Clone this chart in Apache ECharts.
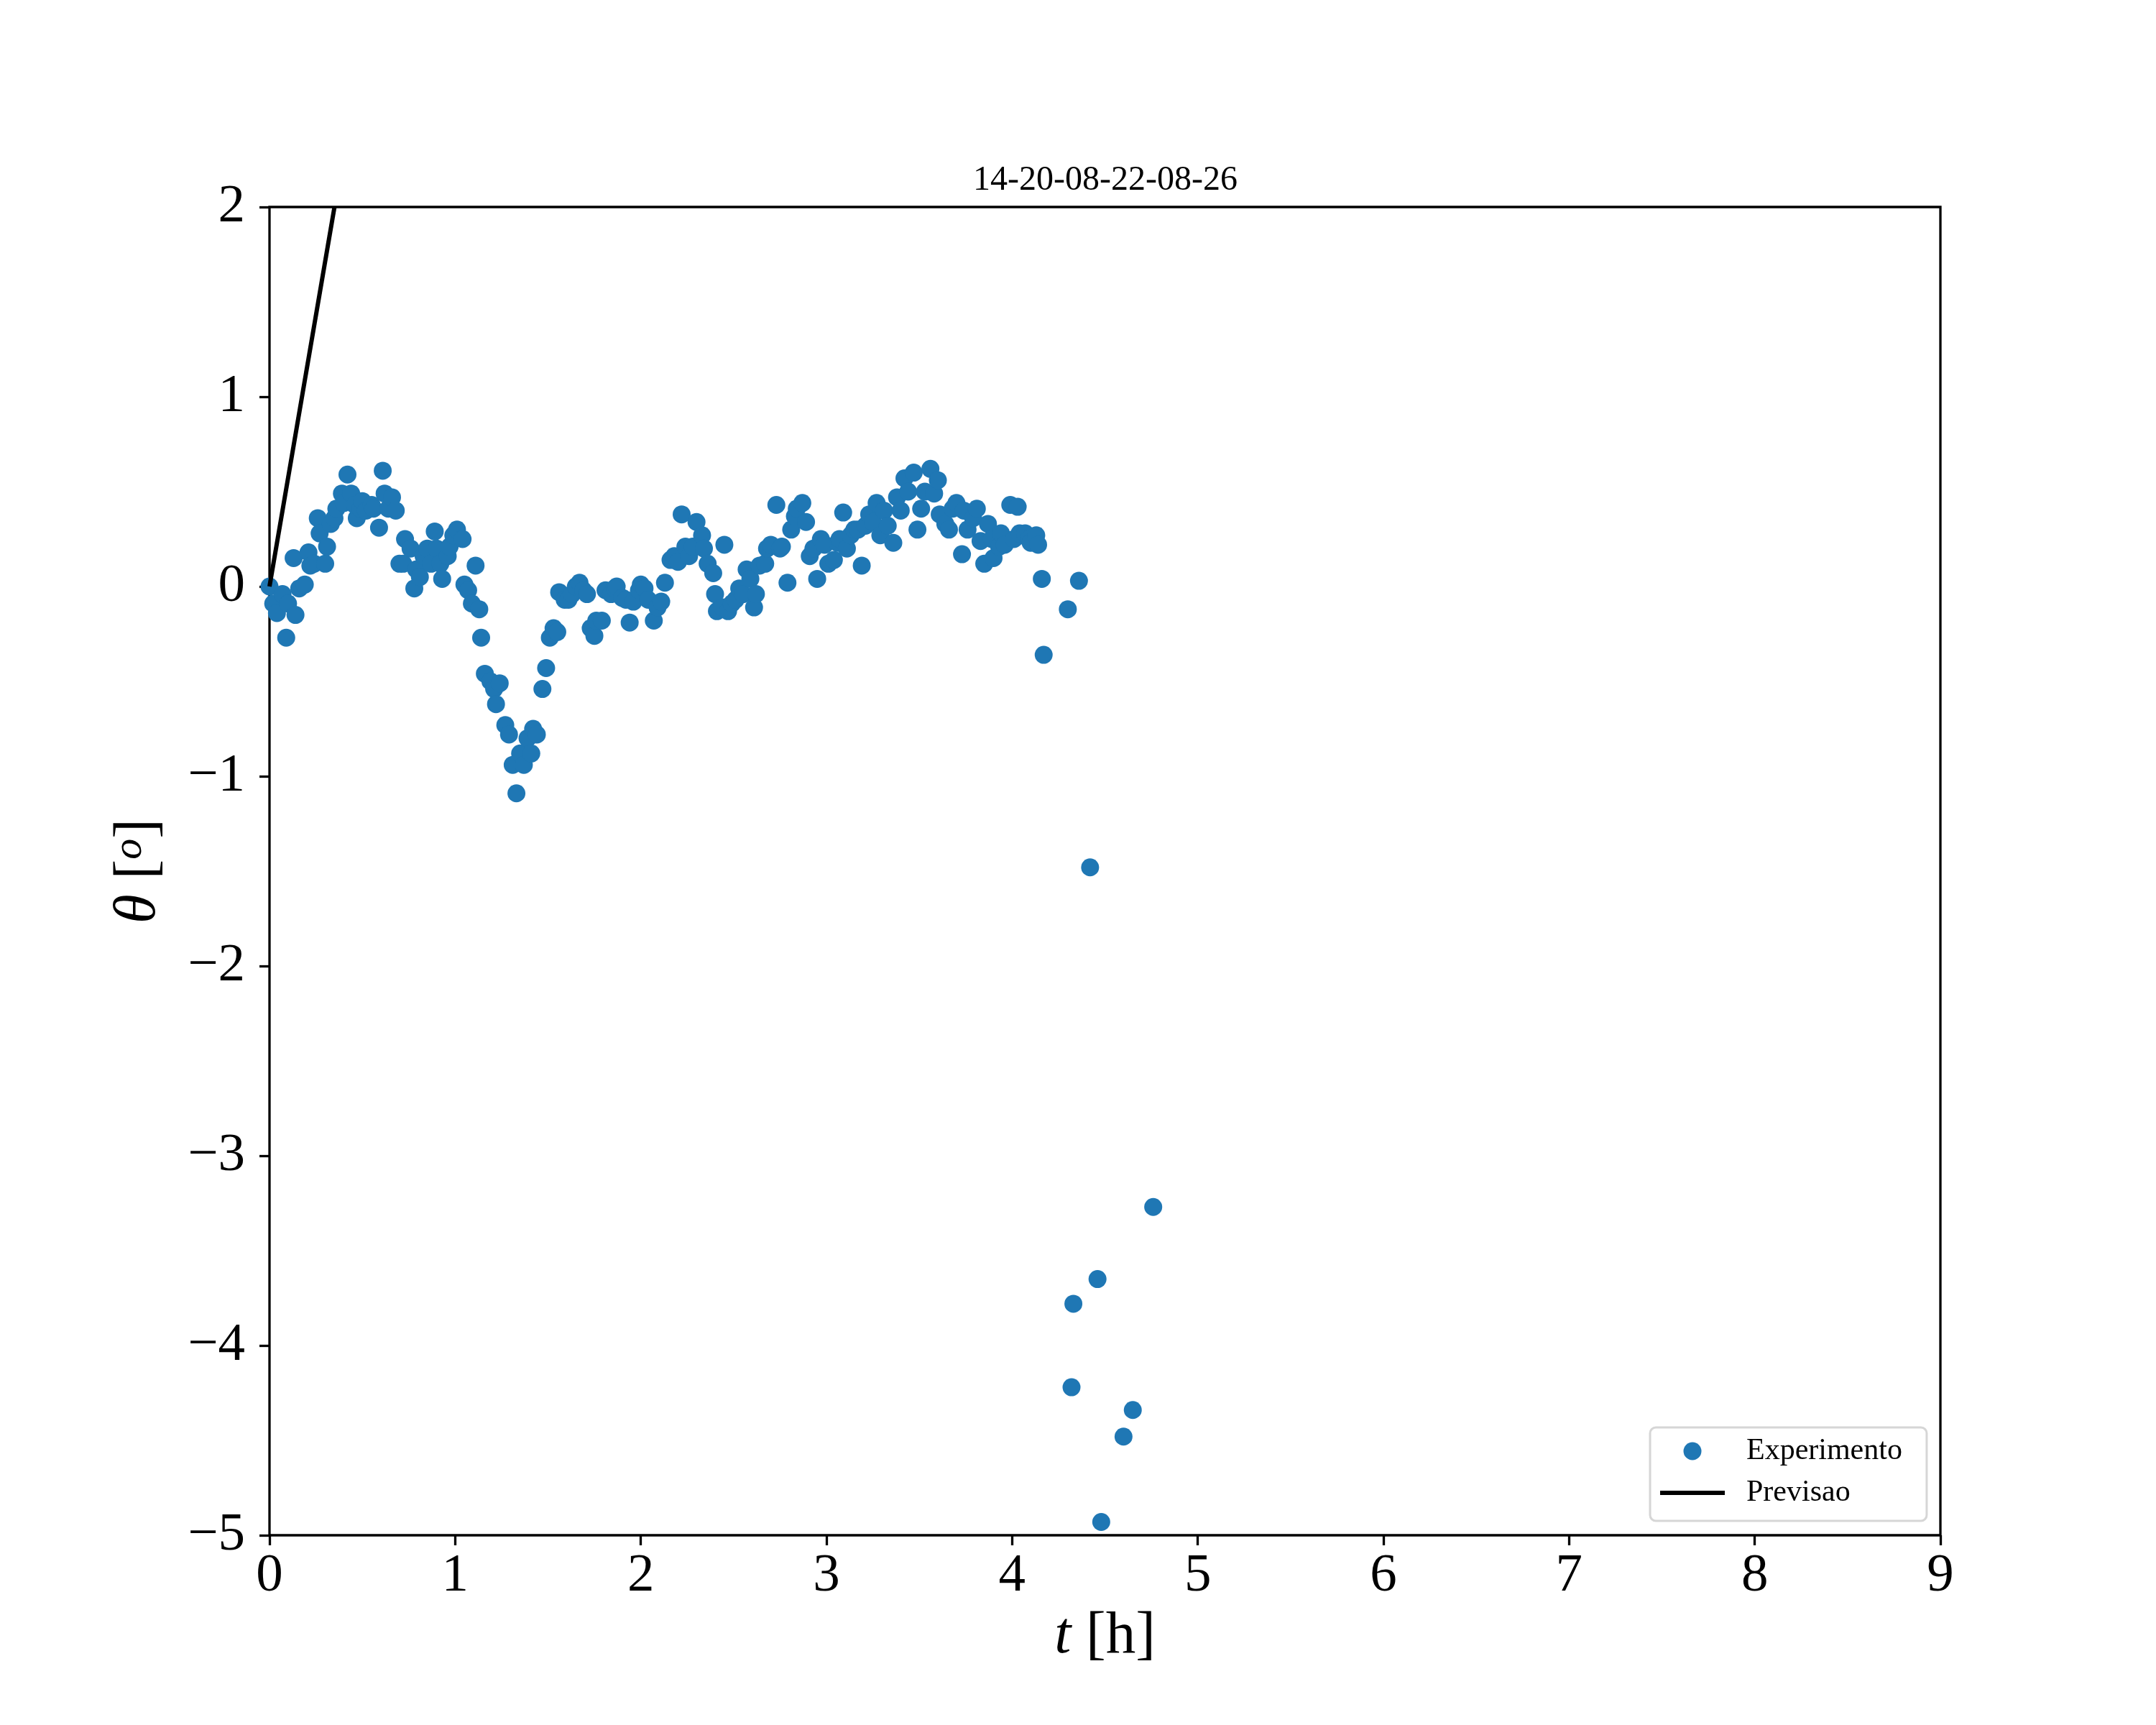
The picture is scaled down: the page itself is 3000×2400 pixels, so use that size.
<!DOCTYPE html>
<html>
<head>
<meta charset="utf-8">
<script src="https://cdn.jsdelivr.net/npm/echarts@6/dist/echarts.min.js"></script>
<style>html,body{margin:0;padding:0;background:#fff;}#c{width:3000px;height:2400px;}</style>
</head>
<body>
<div id="c"></div>
<script>
const titleText = '14-20-08-22-08-26';
const xTicks = [0, 1, 2, 3, 4, 5, 6, 7, 8, 9];
const yTicks = [-5, -4, -3, -2, -1, 0, 1, 2];

const expT = [
  0.00,0.02,0.04,0.07,0.09,0.10,0.13,0.14,0.16,0.19,
  0.21,0.22,0.24,0.26,0.27,0.30,0.31,0.33,0.35,0.36,
  0.39,0.40,0.42,0.44,0.46,0.47,0.49,0.50,0.52,0.55,
  0.56,0.59,0.61,0.62,0.64,0.66,0.68,0.70,0.72,0.73,
  0.76,0.78,0.79,0.81,0.83,0.85,0.87,0.89,0.90,0.92,
  0.93,0.96,0.97,0.99,1.01,1.04,1.05,1.07,1.09,1.11,
  1.13,1.14,1.16,1.19,1.21,1.22,1.24,1.27,1.29,1.31,
  1.33,1.35,1.37,1.39,1.41,1.42,1.44,1.47,1.49,1.51,
  1.53,1.55,1.56,1.59,1.61,1.63,1.65,1.67,1.69,1.71,
  1.73,1.75,1.76,1.79,1.81,1.84,1.86,1.87,1.90,1.92,
  1.94,1.96,1.99,2.00,2.02,2.04,2.07,2.09,2.11,2.13,
  2.16,2.18,2.20,2.22,2.24,2.26,2.28,2.30,2.33,2.34,
  2.36,2.39,2.40,2.41,2.44,2.45,2.47,2.49,2.51,2.53,
  2.55,2.57,2.59,2.61,2.62,2.64,2.67,2.68,2.70,2.73,
  2.75,2.76,2.79,2.81,2.83,2.84,2.87,2.89,2.91,2.93,
  2.95,2.97,2.99,3.01,3.04,3.06,3.07,3.09,3.11,3.13,
  3.15,3.17,3.19,3.21,3.23,3.25,3.27,3.29,3.31,3.33,
  3.36,3.38,3.40,3.42,3.44,3.47,3.49,3.51,3.53,3.56,
  3.58,3.60,3.61,3.64,3.66,3.68,3.70,3.73,3.74,3.76,
  3.79,3.81,3.83,3.85,3.87,3.89,3.90,3.93,3.94,3.96,
  3.99,4.01,4.03,4.04,4.07,4.09,4.10,4.13,4.14,4.16,
  4.17,4.30,4.32,4.33,4.36,4.42,4.46,4.48,4.60,4.65,
  4.76
];
const expTheta = [
  0.00,-0.09,-0.14,-0.04,-0.27,-0.09,0.15,-0.15,-0.01,0.01,
  0.18,0.11,0.12,0.36,0.28,0.12,0.21,0.33,0.36,0.41,
  0.49,0.44,0.59,0.49,0.43,0.36,0.41,0.45,0.40,0.43,
  0.41,0.31,0.61,0.49,0.41,0.47,0.40,0.12,0.12,0.25,
  0.20,-0.01,0.09,0.05,0.16,0.20,0.12,0.29,0.20,0.12,
  0.04,0.16,0.21,0.27,0.30,0.25,0.01,-0.02,-0.09,0.11,
  -0.12,-0.27,-0.46,-0.50,-0.54,-0.62,-0.51,-0.73,-0.78,-0.94,
  -1.09,-0.88,-0.94,-0.80,-0.88,-0.75,-0.78,-0.54,-0.43,-0.27,
  -0.22,-0.24,-0.03,-0.07,-0.07,-0.04,0.00,0.02,-0.02,-0.04,
  -0.22,-0.26,-0.18,-0.18,-0.02,-0.04,-0.01,0.00,-0.06,-0.07,
  -0.19,-0.08,-0.02,0.01,-0.01,-0.07,-0.18,-0.11,-0.08,0.02,
  0.14,0.16,0.13,0.38,0.21,0.16,0.21,0.34,0.27,0.20,
  0.12,0.07,-0.04,-0.13,-0.11,0.22,-0.13,-0.09,-0.07,-0.01,
  -0.04,0.09,0.04,-0.11,-0.04,0.11,0.12,0.20,0.22,0.43,
  0.20,0.21,0.02,0.30,0.37,0.41,0.44,0.34,0.16,0.20,
  0.04,0.25,0.22,0.12,0.14,0.23,0.25,0.39,0.20,0.27,
  0.30,0.30,0.11,0.32,0.38,0.34,0.44,0.27,0.40,0.32,
  0.23,0.47,0.40,0.57,0.50,0.60,0.30,0.41,0.50,0.62,
  0.49,0.56,0.38,0.33,0.30,0.41,0.44,0.17,0.40,0.30,
  0.36,0.41,0.24,0.12,0.33,0.25,0.15,0.21,0.28,0.22,
  0.43,0.25,0.42,0.28,0.28,0.25,0.23,0.27,0.22,0.04,
  -0.36,-0.12,-4.22,-3.78,0.03,-1.48,-3.65,-4.93,-4.48,-4.34,
  -3.27
];
const prevT = [0, 0.35];
const prevTheta = [0, 2];

const FONT = 'Liberation Serif';
const expData = expT.map((t, i) => [t, expTheta[i]]);
const prevData = prevT.map((t, i) => [t, prevTheta[i]]);
const minus = v => String(v).replace('-', '\u2212');

const chart = echarts.init(document.getElementById('c'), null, {renderer: 'canvas', devicePixelRatio: 1});
chart.setOption({
  animation: false,
  backgroundColor: '#ffffff',
  title: {
    text: titleText,
    left: 1533,
    top: 222,
    textAlign: 'center',
    textStyle: {fontFamily: FONT, fontSize: 48, fontWeight: 'normal', color: '#000'}
  },
  grid: {
    left: 375, right: 300, top: 288, bottom: 264,
    show: true, borderColor: '#000', borderWidth: 3.3, backgroundColor: 'transparent'
  },
  legend: {
    orient: 'vertical',
    left: 2296,
    top: 1986,
    padding: [12, 34, 18, 14],
    itemWidth: 90,
    itemHeight: 25,
    itemGap: 16,
    symbolKeepAspect: true,
    backgroundColor: '#fff',
    borderColor: '#d6d6d6',
    borderWidth: 3,
    borderRadius: 8,
    textStyle: {fontFamily: FONT, fontSize: 42, color: '#000', padding: [0, 0, 0, 25]},
    data: [
      {name: 'Experimento', icon: 'circle'},
      {name: 'Previsao', icon: 'path://M0,0 L90,0 L90,6 L0,6 Z', itemStyle: {color: '#000'}}
    ]
  },
  xAxis: {
    type: 'value',
    min: 0, max: 9, interval: 1,
    axisLine: {show: false, onZero: false},
    axisTick: {show: true, inside: false, length: 14, lineStyle: {color: '#000', width: 3.3}},
    axisLabel: {margin: 20, fontFamily: FONT, fontSize: 75, color: '#000', formatter: v => minus(v)},
    splitLine: {show: false},
    name: '{i|t} [h]',
    nameLocation: 'middle',
    nameGap: 100,
    nameTextStyle: {fontFamily: FONT, fontSize: 83, color: '#000',
      rich: {i: {fontFamily: FONT, fontStyle: 'italic', fontSize: 83, color: '#000'}}}
  },
  yAxis: {
    type: 'value',
    min: -5, max: 2, interval: 1,
    axisLine: {show: false, onZero: false},
    axisTick: {show: true, inside: false, length: 14, lineStyle: {color: '#000', width: 3.3}},
    axisLabel: {margin: 34, fontFamily: FONT, fontSize: 75, color: '#000', formatter: v => minus(v)},
    splitLine: {show: false},
    name: '{i|\u03B8} [{o|o}]',
    nameLocation: 'middle',
    nameRotate: 90,
    nameGap: 140,
    nameTextStyle: {fontFamily: FONT, fontSize: 83, color: '#000',
      rich: {
        i: {fontFamily: FONT, fontStyle: 'italic', fontSize: 83, color: '#000'},
        o: {fontFamily: FONT, fontStyle: 'italic', fontSize: 58, color: '#000', verticalAlign: 'top'}
      }}
  },
  series: [
    {
      name: 'Experimento',
      type: 'scatter',
      data: expData,
      symbol: 'circle',
      symbolSize: 25,
      itemStyle: {color: '#1f77b4', opacity: 1},
      z: 2
    },
    {
      name: 'Previsao',
      type: 'line',
      data: prevData,
      symbol: 'none',
      showSymbol: false,
      lineStyle: {color: '#000', width: 6},
      itemStyle: {color: '#000'},
      z: 3
    }
  ]
});
</script>
</body>
</html>
